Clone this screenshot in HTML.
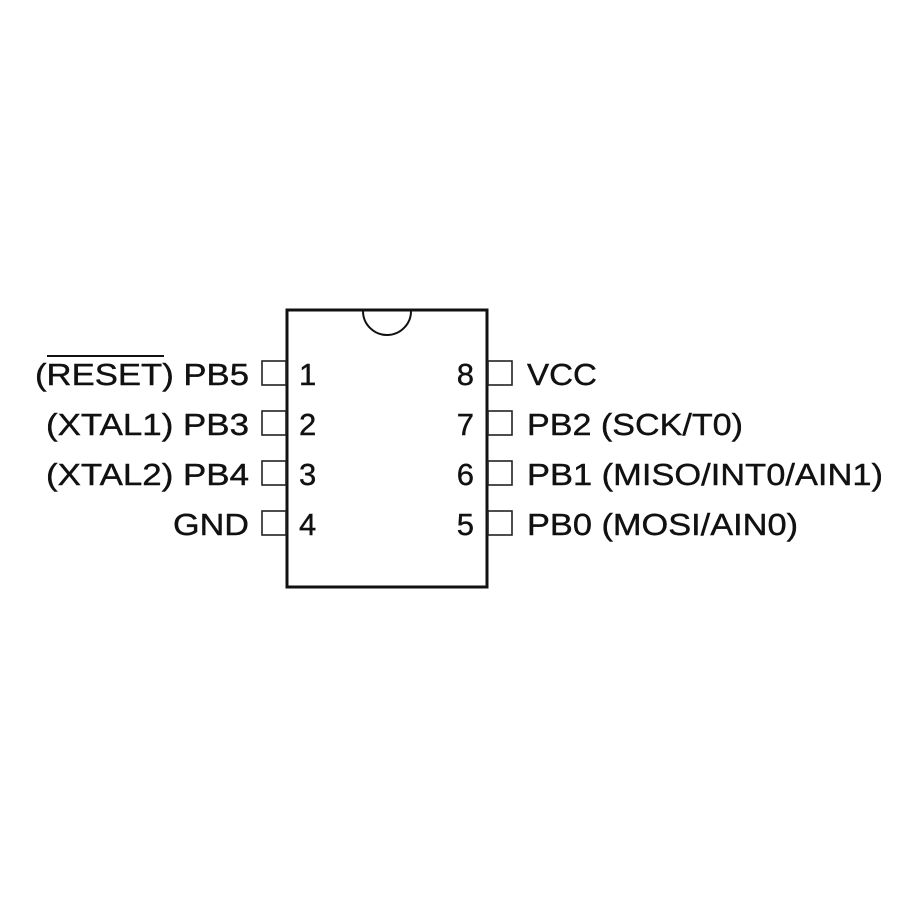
<!DOCTYPE html>
<html><head><style>
html,body{margin:0;padding:0;background:#fff;}
svg{display:block;}
text{font-family:"Liberation Sans",sans-serif;font-size:31px;fill:#111;stroke:#111;stroke-width:0.4;}
</style></head><body>
<svg width="900" height="900" viewBox="0 0 900 900">
<rect x="287" y="310" width="200" height="277" fill="#fff" stroke="#111" stroke-width="3"/>
<path d="M363 311 A24 24 0 0 0 411 311" fill="none" stroke="#111" stroke-width="2"/>
<g fill="none" stroke="#222" stroke-width="1.6">
<rect x="262" y="361" width="24" height="24"/>
<rect x="262" y="411" width="24" height="24"/>
<rect x="262" y="461" width="24" height="24"/>
<rect x="262" y="511" width="24" height="24"/>
<rect x="488" y="361" width="24" height="24"/>
<rect x="488" y="411" width="24" height="24"/>
<rect x="488" y="461" width="24" height="24"/>
<rect x="488" y="511" width="24" height="24"/>
</g>
<text x="35" y="385" textLength="214" lengthAdjust="spacingAndGlyphs">(RESET) PB5</text>
<text x="46" y="435" textLength="203" lengthAdjust="spacingAndGlyphs">(XTAL1) PB3</text>
<text x="46" y="485" textLength="203" lengthAdjust="spacingAndGlyphs">(XTAL2) PB4</text>
<text x="173" y="535" textLength="76" lengthAdjust="spacingAndGlyphs">GND</text>
<g text-anchor="end">
<text x="474" y="385">8</text>
<text x="474" y="435">7</text>
<text x="474" y="485">6</text>
<text x="474" y="535">5</text>
</g>
<line x1="47" y1="356" x2="164" y2="356" stroke="#111" stroke-width="2"/>
<text x="299" y="385">1</text>
<text x="299" y="435">2</text>
<text x="299" y="485">3</text>
<text x="299" y="535">4</text>
<text x="527" y="385" textLength="70" lengthAdjust="spacingAndGlyphs">VCC</text>
<text x="527" y="435" textLength="216" lengthAdjust="spacingAndGlyphs">PB2 (SCK/T0)</text>
<text x="527" y="485" textLength="356" lengthAdjust="spacingAndGlyphs">PB1 (MISO/INT0/AIN1)</text>
<text x="527" y="535" textLength="271" lengthAdjust="spacingAndGlyphs">PB0 (MOSI/AIN0)</text>
</svg>
</body></html>
